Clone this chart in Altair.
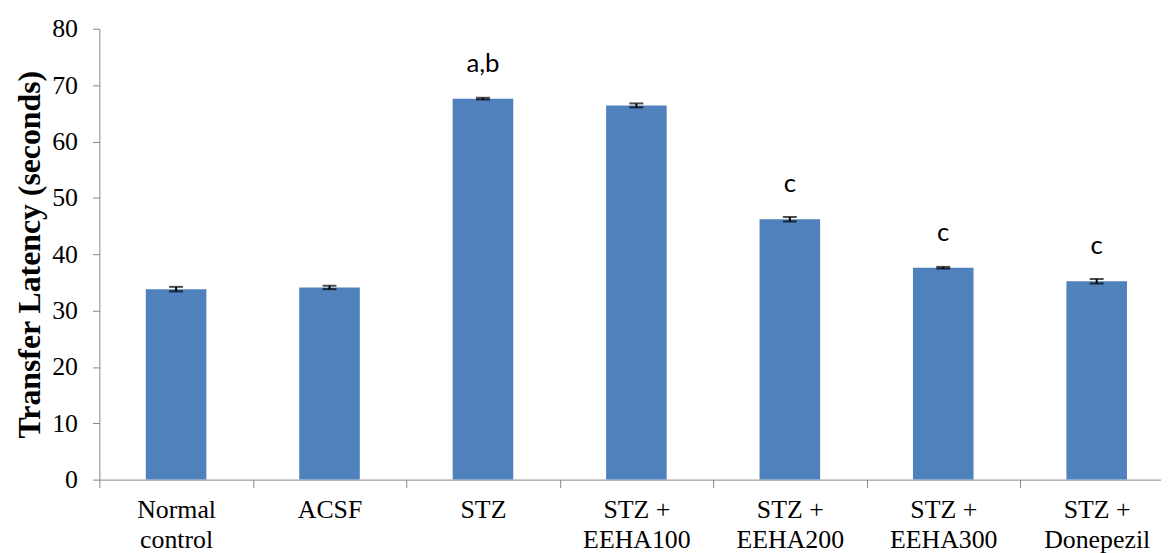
import altair as alt
import pandas as pd

groups = ["Normal control", "ACSF", "STZ", "STZ + EEHA100", "STZ + EEHA200",
          "STZ + EEHA300", "STZ + Donepezil"]
means = [33.8, 34.1, 67.6, 66.4, 46.2, 37.6, 35.2]
sems = [0.4, 0.3, 0.15, 0.35, 0.4, 0.15, 0.4]
marks = ["", "", "a,b", "", "c", "c", "c"]

df = pd.DataFrame({"group": groups, "mean": means, "sem": sems, "mark": marks})
df["lo"] = df["mean"] - df["sem"]
df["hi"] = df["mean"] + df["sem"]

label_expr = ("datum.label == 'Normal control' ? ['Normal', 'control'] : "
              "indexof(datum.label, '+') > 0 ? [slice(datum.label, 0, 5), slice(datum.label, 6)] : datum.label")

x = alt.X("group:N", sort=groups, title=None,
          scale=alt.Scale(range=[0, 1081.5], paddingInner=0, paddingOuter=0),
          axis=alt.Axis(labelAngle=0, labelFont="Liberation Serif", labelFontSize=26,
                        labelColor="black", labelExpr=label_expr, labelLineHeight=30,
                        labelPadding=9, tickBand="extent", tickSize=8,
                        domainColor="#868686", tickColor="#868686", labelLimit=300))

y_scale = alt.Scale(domain=[0, 80], nice=False)

base = alt.Chart(df)

bars = base.mark_bar(size=61, color="#4F81BD").encode(
    x=x,
    y=alt.Y("mean:Q", scale=y_scale, title="Transfer Latency (seconds)",
            axis=alt.Axis(values=list(range(0, 81, 10)), grid=False,
                          labelFont="Liberation Serif", labelFontSize=26, labelColor="black",
                          labelPadding=15, tickSize=7, domainColor="#868686",
                          tickColor="#868686", titleFont="Liberation Serif",
                          titleFontSize=32, titleFontWeight="bold", titleColor="black",
                          titlePadding=5)),
)

err = base.mark_rule(color="black", strokeWidth=2).encode(
    x=alt.X("group:N", sort=groups), y=alt.Y("lo:Q", scale=y_scale), y2="hi:Q")
caps_lo = base.mark_tick(color="black", size=14, thickness=2).encode(
    x=alt.X("group:N", sort=groups), y=alt.Y("lo:Q", scale=y_scale))
caps_hi = base.mark_tick(color="black", size=14, thickness=2).encode(
    x=alt.X("group:N", sort=groups), y=alt.Y("hi:Q", scale=y_scale))

text = base.mark_text(font="Lato", fontSize=26, color="black", dy=-35, baseline="middle").encode(
    x=alt.X("group:N", sort=groups), y=alt.Y("mean:Q", scale=y_scale), text="mark:N")

chart = alt.layer(bars, err, caps_lo, caps_hi, text).properties(
    width=1069, height=454,
    autosize=alt.AutoSizeParams(type="none"),
    padding={"left": 92, "top": 19, "right": 0, "bottom": 72},
).configure_view(stroke=None)

chart.save("out.html", embed_options={"renderer": "svg", "actions": False})
